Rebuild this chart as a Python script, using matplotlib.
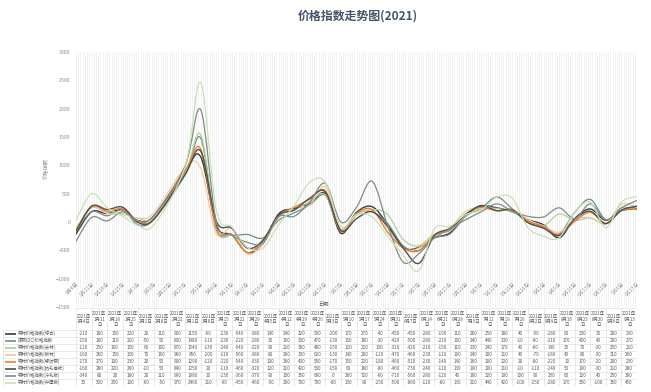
import matplotlib
matplotlib.use('Agg')
import matplotlib.pyplot as plt
import matplotlib.dates as mdates
from matplotlib.path import Path
from matplotlib.patches import PathPatch
import numpy as np
import pandas as pd

plt.rcParams['font.family'] = ['Noto Sans CJK SC', 'DejaVu Sans']

dates = ['2021-01-04', '2021-01-11', '2021-01-18', '2021-01-25', '2021-02-01', '2021-02-08',
         '2021-02-22', '2021-03-01', '2021-03-08', '2021-03-15', '2021-03-22', '2021-03-29',
         '2021-04-05', '2021-04-12', '2021-04-19', '2021-04-26', '2021-05-03', '2021-05-10',
         '2021-05-17', '2021-05-24', '2021-05-31', '2021-06-07', '2021-06-14', '2021-06-21',
         '2021-06-28', '2021-07-05', '2021-07-12', '2021-07-19', '2021-07-26', '2021-08-02',
         '2021-08-09', '2021-08-16', '2021-08-23', '2021-08-30', '2021-09-06', '2021-09-13']

names = ['钢材价格指数(综合)', '废钢(DC)价格指数', '钢材价格指数(长材)', '钢材价格指数(板材)',
         '钢材价格指数(螺纹钢)', '钢材价格指数(热轧卷板)', '钢材价格指数(冷轧板)', '钢材价格指数(中厚板)']

s1 = [-210, 180, 150, 220, 20, 110, 900, 1150, -60, -230, -540, -380, 140, 240, 320, 500, -200, 170,
      270, -40, -450, -450, -280, -190, 110, 280, 250, 180, 40, -50, -280, 60, 230, 30, 200, 230]
s2 = [-150, 180, 110, 210, -50, 50, 830, 1480, -110, -230, -220, -280, 30, 160, 300, 470, -130, 150,
      180, -30, -420, -500, -280, -210, 100, 240, 440, 230, -10, -90, -210, 170, 400, 40, 200, 270]
s3 = [-110, 250, 160, 150, 60, 100, 870, 1540, -130, -240, -540, -320, 90, 210, 360, 480, -150, 120,
      220, 130, -310, -420, -210, -150, 110, 230, 240, 170, 40, -60, 140, 30, 70, -30, 250, 210]
s4 = [-160, 260, 150, 130, 70, 160, 960, 950, -200, -110, -560, -380, 80, 260, 300, 620, -130, 140,
      200, -110, -470, -460, -230, -110, 190, 240, 200, 210, 40, -70, -180, 40, 80, -30, 310, 260]
s5 = [-170, 270, 190, 230, 20, 50, 900, 1290, -120, -220, -540, -330, 100, 260, 400, 550, -170, 150,
      220, -180, -460, -510, -230, -140, 140, 260, 200, 220, 20, -80, -220, 10, 170, -20, 200, 230]
s6 = [-160, 280, 220, 260, -10, 50, 840, 1250, 20, -110, -460, -320, 120, 210, 420, 530, -150, 60,
      180, -80, -460, -730, -240, -110, 130, 290, 200, 210, -10, -110, -240, 50, 190, -30, 210, 280]
s7 = [-340, 80, 20, 180, 20, 110, 990, 1980, 10, -230, -360, -370, 90, 100, 350, 680, 0, 260,
      720, -60, -710, -560, -280, -120, 40, 180, 320, 190, 100, 90, 250, 60, 320, 40, 250, 380]
s8 = [30, 500, 250, 100, -60, -50, 970, 2460, 210, -90, -450, -460, -50, 290, 700, 700, -80, 130,
      90, -250, -590, -860, -120, -80, 130, 210, 440, 420, -100, -250, -280, 170, 350, -100, 350, 450]

series = [s1, s2, s3, s4, s5, s6, s7, s8]
colors = ['#3b3b3b', '#6f8f86', '#a9d18e', '#f4c7a1', '#ed7d31', '#505050', '#7f8c8a', '#c5e0b4']
widths = [1.0, 0.9, 0.85, 0.85, 0.95, 1.0, 0.9, 0.85]


def smooth_path(xs, ys):
    # Excel-like smoothed line: cubic Bezier through every data point
    pts = np.column_stack([xs, ys]).astype(float)
    n = len(pts)
    verts = [pts[0]]
    codes = [Path.MOVETO]
    for i in range(n - 1):
        p0 = pts[i - 1] if i > 0 else pts[i]
        p1, p2 = pts[i], pts[i + 1]
        p3 = pts[i + 2] if i + 2 < n else pts[i + 1]
        verts += [p1 + (p2 - p0) / 6, p2 - (p3 - p1) / 6, p2]
        codes += [Path.CURVE4] * 3
    return Path(verts, codes)


W, H = 651, 392
fx = lambda px: px / W
fy = lambda py: 1 - py / H

fig = plt.figure(figsize=(6.51, 3.92), dpi=100)
fig.patch.set_facecolor('white')

# ---- main chart ----
L, R, T, B = 76, 637, 52, 307
ax = fig.add_axes([fx(L), fy(B), fx(R) - fx(L), fy(T) - fy(B)])
x = mdates.date2num(pd.to_datetime(dates))
ax.set_xlim(x[0], x[-1])
ax.set_ylim(-1500, 3000)

days = np.arange(x[0], x[-1] + 1)
weeks = np.arange(x[0], x[-1] + 1, 7)
ax.set_xticks(days, minor=True)
ax.set_xticks(weeks)
ax.set_xticklabels([f"{d.month}月{d.day}日" for d in mdates.num2date(weeks)])
ax.grid(which='both', axis='x', color='#ebebeb', lw=0.45)
ax.set_axisbelow(True)

for sp in ['top', 'right', 'left']:
    ax.spines[sp].set_visible(False)
ax.spines['bottom'].set_position(('data', -1000))
ax.spines['bottom'].set_visible(False)
ax.tick_params(axis='x', which='both', length=0, labelsize=3.6, labelcolor='#8c8c8c', pad=2)
plt.setp(ax.get_xticklabels(), rotation=45, ha='right', rotation_mode='anchor')

ax.set_yticks(np.arange(-1500, 3001, 500))
ax.tick_params(axis='y', length=0, labelsize=3.8, labelcolor='#8c8c8c', pad=4)

ax.set_ylabel('价格指数', fontsize=3.8, color='#8c8c8c')
ax.yaxis.set_label_coords(-0.048, 0.545)
ax.set_xlabel('日期', fontsize=3.8, color='#595959')
ax.xaxis.set_label_coords(0.44, 0.02)

for s, c, lw in zip(series, colors, widths):
    ax.add_patch(PathPatch(smooth_path(x, s), fill=False, edgecolor=c, lw=lw,
                           capstyle='round', joinstyle='round'))

fig.text(fx(358), fy(16), '价格指数走势图(2021)', fontsize=8.6, weight='bold',
         color='#44546a', ha='center', va='center')

# ---- data table below the chart ----
TT, TB = 308, 386
tab = fig.add_axes([0, fy(TB), fx(R), fy(TT) - fy(TB)])
tab.set_xlim(0, R)
tab.set_ylim(TB, TT)
tab.axis('off')

ncol = len(dates)
cw = (R - L) / ncol
hdr_bot = 330
rh = (TB - hdr_bot) / len(series)
gc = '#d9d9d9'

# grid
for i in range(ncol + 1):
    tab.plot([L + i * cw] * 2, [TT, TB], color=gc, lw=0.4)
tab.plot([L, R], [TT, TT], color=gc, lw=0.4)
tab.plot([3, 3], [hdr_bot, TB], color=gc, lw=0.4)
for r in range(len(series) + 1):
    tab.plot([3, R], [hdr_bot + r * rh] * 2, color=gc, lw=0.4)

# headers
for i, d in enumerate(pd.to_datetime(dates)):
    md = f"{d.month}月{d.day}"
    txt = f"2021年\n{md}\n日" if d.day >= 10 else f"2021年\n{md}日"
    tab.text(L + (i + 0.5) * cw, (TT + hdr_bot) / 2, txt, fontsize=3.2, color='#595959',
             ha='center', va='center', linespacing=1.05)

# rows
for r, (s, c, name) in enumerate(zip(series, colors, names)):
    yc = hdr_bot + (r + 0.5) * rh
    tab.plot([5, 16], [yc, yc], color=c, lw=1.2, solid_capstyle='butt')
    tab.text(18, yc, name, fontsize=3.2, color='#595959', ha='left', va='center')
    for i, v in enumerate(s):
        tab.text(L + (i + 0.5) * cw, yc, str(v), fontsize=3.3, color='#595959',
                 ha='center', va='center')

fig.savefig('out.png', dpi=100, facecolor='white')
